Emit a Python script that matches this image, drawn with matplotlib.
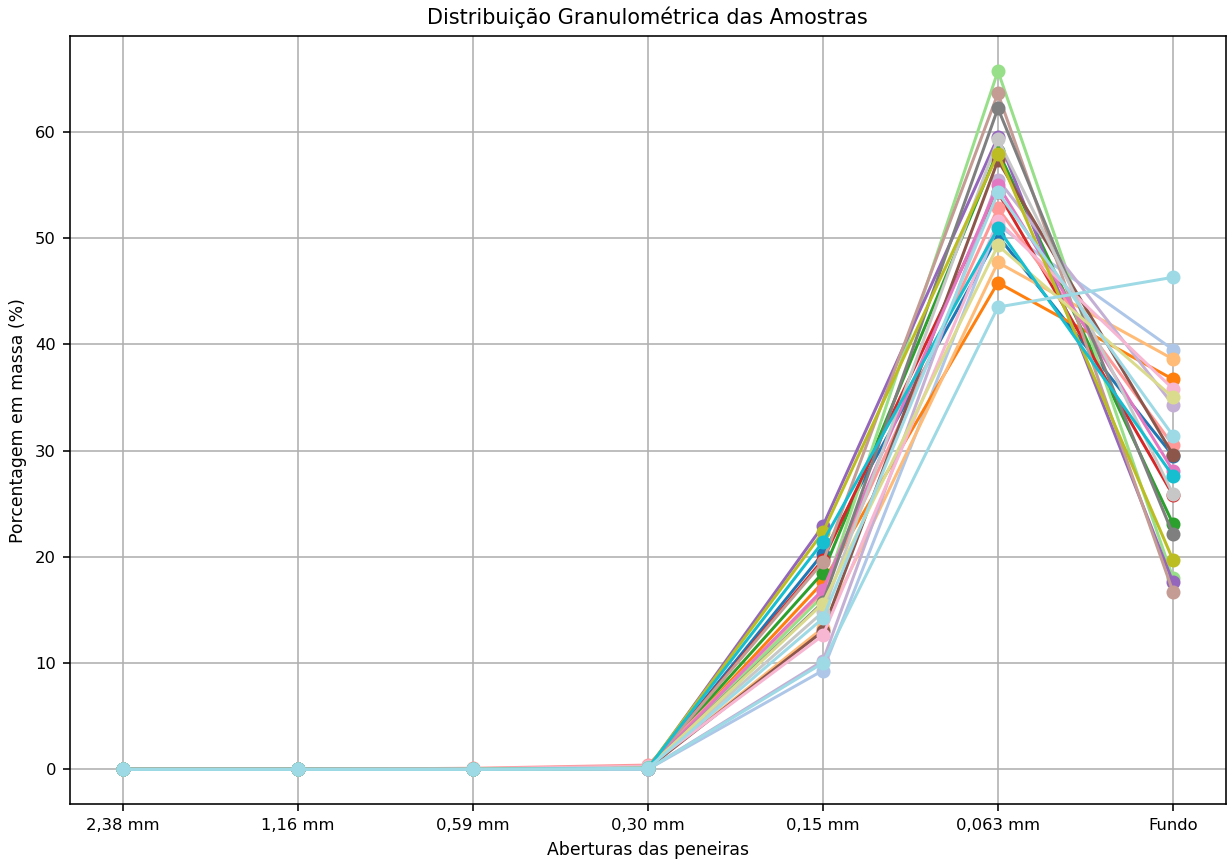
import numpy as np
import matplotlib
matplotlib.use('Agg')
import matplotlib.pyplot as plt

peneiras = ['2,38 mm', '1,16 mm', '0,59 mm', '0,30 mm', '0,15 mm', '0,063 mm', 'Fundo']

# porcentagem retida em cada peneira, uma lista por amostra
amostras = [
    [0, 0, 0, 0.0, 20.3, 50.2, 29.5],
    [0, 0, 0, 0.0, 9.3, 51.2, 39.5],
    [0, 0, 0, 0.0, 17.6, 45.8, 36.7],
    [0, 0, 0, 0.1, 13.3, 47.7, 38.6],
    [0, 0, 0, 0.1, 18.5, 58.2, 23.1],
    [0, 0, 0, 0.0, 16.3, 65.7, 18.0],
    [0, 0, 0, 0.1, 19.7, 54.3, 25.8],
    [0, 0, 0.1, 0.4, 16.7, 52.8, 30.5],
    [0, 0, 0, 0.0, 22.9, 59.5, 17.6],
    [0, 0, 0, 0.0, 10.2, 55.5, 34.3],
    [0, 0, 0, 0.1, 13.0, 57.3, 29.6],
    [0, 0, 0, 0.1, 19.5, 63.6, 16.7],
    [0, 0, 0, 0.1, 16.9, 55.0, 28.1],
    [0, 0, 0.05, 0.3, 12.6, 51.6, 35.8],
    [0, 0, 0, 0.1, 15.7, 62.2, 22.1],
    [0, 0, 0, 0.2, 14.8, 59.3, 25.9],
    [0, 0, 0, 0.1, 22.3, 57.9, 19.7],
    [0, 0, 0, 0.1, 15.6, 49.3, 35.0],
    [0, 0, 0, 0.1, 21.4, 50.9, 27.6],
    [0, 0, 0, 0.1, 14.2, 54.3, 31.4],
    [0, 0, 0, 0.0, 10.0, 43.5, 46.3],
]

cores = plt.cm.tab20(np.linspace(0, 1, len(amostras)))

fig, ax = plt.subplots(figsize=(1228/144, 862/144), dpi=144)
x = np.arange(len(peneiras))
for i, vals in enumerate(amostras):
    ax.plot(x, vals, marker='o', color=cores[i], label='Amostra %d' % (i+1))

ax.set_xticks(x)
ax.set_xticklabels(peneiras)
ax.tick_params(labelsize=8.2)
ax.set_title('Distribuição Granulométrica das Amostras', fontsize=10.4)
ax.set_xlabel('Aberturas das peneiras', fontsize=8.6)
ax.set_ylabel('Porcentagem em massa (%)', fontsize=8.6)
ax.grid(True)
plt.subplots_adjust(left=0.057, right=0.998, bottom=0.067, top=0.958)
plt.savefig('out.png', dpi=144)
